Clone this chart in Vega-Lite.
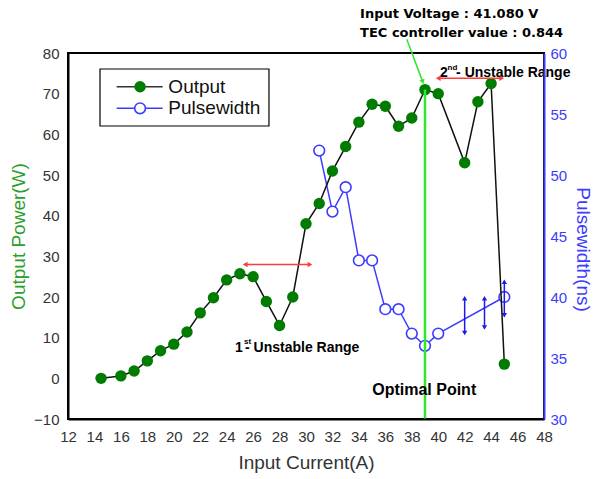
{
  "$schema": "https://vega.github.io/schema/vega-lite/v6.json",
  "width": 476,
  "height": 366,
  "autosize": {"type": "none"},
  "padding": {"left": 68, "top": 53, "right": 51, "bottom": 60},
  "background": "white",
  "config": {"view": {"stroke": "black", "strokeWidth": 2}, "font": "Liberation Sans"},
  "layer": [
    {
      "encoding": {
        "x": {"field": "x", "type": "quantitative", "scale": {"domain": [12, 48], "nice": false, "zero": false},
          "axis": {
            "title": "Input Current(A)", "grid": false, "ticks": false,
            "values": [12,14,16,18,20,22,24,26,28,30,32,34,36,38,40,42,44,46,48],
            "domainColor": "black", "domainWidth": 2,
            "labelColor": "#333333", "labelFont": "Liberation Sans", "labelFontSize": 15, "labelPadding": 10,
            "labelOverlap": false, "labelFlush": false,
            "titleColor": "#333333", "titleFont": "Liberation Sans", "titleFontSize": 19, "titleFontWeight": "normal",
            "titlePadding": 9, "zindex": 1
          }
        },
        "y": {"field": "y", "type": "quantitative", "scale": {"domain": [30, 60], "nice": false, "zero": false},
          "axis": {
            "orient": "right", "title": "Pulsewidth(ns)", "grid": false, "ticks": false,
            "values": [30, 35, 40, 45, 50, 55, 60],
            "domainColor": "#3c3cff", "domainWidth": 2,
            "labelColor": "#3c3cff", "labelFont": "Liberation Sans", "labelFontSize": 15, "labelPadding": 6,
            "labelOverlap": false, "labelFlush": false,
            "titleColor": "#3c3cff", "titleFont": "Liberation Sans", "titleFontSize": 19, "titleFontWeight": "normal",
            "titleAngle": 90, "titlePadding": 6, "titleY": 196, "zindex": 1
          }
        }
      },
      "layer": [
        {
          "data": {"values": [{"y": 30}, {"y": 32.5}, {"y": 35}, {"y": 37.5}, {"y": 40}, {"y": 42.5}, {"y": 45}, {"y": 47.5}, {"y": 50}, {"y": 52.5}, {"y": 55}, {"y": 57.5}, {"y": 60}]},
          "layer": [
            {"transform": [{"filter": "datum.y % 5 === 0"}],
             "mark": {"type": "rule", "color": "#3c3cff", "strokeWidth": 1.5},
             "encoding": {"x": {"datum": 48}, "x2": {"datum": 47.395}}},
            {"transform": [{"filter": "datum.y % 5 !== 0"}],
             "mark": {"type": "rule", "color": "#3c3cff", "strokeWidth": 1.5},
             "encoding": {"x": {"datum": 48}, "x2": {"datum": 47.7}}}
          ]
        },
        {
          "data": {"values": [
            {"x": 31, "y": 52}, {"x": 32, "y": 47}, {"x": 33, "y": 49}, {"x": 34, "y": 43}, {"x": 35, "y": 43},
            {"x": 36, "y": 39}, {"x": 37, "y": 39}, {"x": 38, "y": 37}, {"x": 39, "y": 36}, {"x": 40, "y": 37}, {"x": 45, "y": 40}
          ]},
          "layer": [
            {"mark": {"type": "line", "color": "#3c3cff", "strokeWidth": 1.5}},
            {"mark": {"type": "point", "shape": "circle", "filled": true, "fill": "white", "stroke": "#3c3cff", "strokeWidth": 1.6, "size": 115, "opacity": 1}}
          ]
        },
        {
          "data": {"values": [
            {"x": 42, "y": 37.05, "y2": 39.9}, {"x": 43.5, "y": 37.5, "y2": 39.9}, {"x": 45, "y": 38.5, "y2": 41.25}
          ]},
          "layer": [
            {"mark": {"type": "rule", "color": "#1a1aee", "strokeWidth": 1.5}, "encoding": {"y2": {"field": "y2"}}},
            {"mark": {"type": "point", "shape": "triangle-up", "filled": true, "color": "#1a1aee", "size": 28, "opacity": 1}, "encoding": {"y": {"field": "y2", "type": "quantitative"}}},
            {"mark": {"type": "point", "shape": "triangle-down", "filled": true, "color": "#1a1aee", "size": 28, "opacity": 1}}
          ]
        }
      ]
    },
    {
      "encoding": {
        "x": {"field": "x", "type": "quantitative", "scale": {"domain": [12, 48], "nice": false, "zero": false},
          "axis": {
            "title": "Input Current(A)", "grid": false, "ticks": false,
            "values": [12,14,16,18,20,22,24,26,28,30,32,34,36,38,40,42,44,46,48],
            "domainColor": "black", "domainWidth": 2,
            "labelColor": "#333333", "labelFont": "Liberation Sans", "labelFontSize": 15, "labelPadding": 10,
            "labelOverlap": false, "labelFlush": false,
            "titleColor": "#333333", "titleFont": "Liberation Sans", "titleFontSize": 19, "titleFontWeight": "normal",
            "titlePadding": 9, "zindex": 1
          }
        },
        "y": {"field": "y", "type": "quantitative", "scale": {"domain": [-10, 80], "nice": false, "zero": false},
          "axis": {
            "orient": "left", "title": "Output Power(W)", "grid": false, "ticks": false,
            "values": [-10, 0, 10, 20, 30, 40, 50, 60, 70, 80],
            "domainColor": "black", "domainWidth": 2,
            "labelColor": "#333333", "labelFont": "Liberation Sans", "labelFontSize": 15, "labelPadding": 9,
            "labelOverlap": false, "labelFlush": false,
            "titleColor": "#2aa02a", "titleFont": "Liberation Sans", "titleFontSize": 19, "titleFontWeight": "normal",
            "titlePadding": 5, "zindex": 1
          }
        }
      },
      "layer": [
        {
          "data": {"values": [{"x": 12}, {"x": 13}, {"x": 14}, {"x": 15}, {"x": 16}, {"x": 17}, {"x": 18}, {"x": 19}, {"x": 20}, {"x": 21}, {"x": 22}, {"x": 23}, {"x": 24}, {"x": 25}, {"x": 26}, {"x": 27}, {"x": 28}, {"x": 29}, {"x": 30}, {"x": 31}, {"x": 32}, {"x": 33}, {"x": 34}, {"x": 35}, {"x": 36}, {"x": 37}, {"x": 38}, {"x": 39}, {"x": 40}, {"x": 41}, {"x": 42}, {"x": 43}, {"x": 44}, {"x": 45}, {"x": 46}, {"x": 47}, {"x": 48}]},
          "layer": [
            {"transform": [{"filter": "datum.x % 2 === 0"}],
             "mark": {"type": "rule", "color": "black", "strokeWidth": 1.5},
             "encoding": {"y": {"datum": -10}, "y2": {"datum": -8.03}}},
            {"transform": [{"filter": "datum.x % 2 !== 0"}],
             "mark": {"type": "rule", "color": "black", "strokeWidth": 1.5},
             "encoding": {"y": {"datum": -10}, "y2": {"datum": -9.02}}}
          ]
        },
        {
          "data": {"values": [{"y": -10}, {"y": -5}, {"y": 0}, {"y": 5}, {"y": 10}, {"y": 15}, {"y": 20}, {"y": 25}, {"y": 30}, {"y": 35}, {"y": 40}, {"y": 45}, {"y": 50}, {"y": 55}, {"y": 60}, {"y": 65}, {"y": 70}, {"y": 75}, {"y": 80}]},
          "layer": [
            {"transform": [{"filter": "datum.y % 10 === 0"}],
             "mark": {"type": "rule", "color": "black", "strokeWidth": 1.5},
             "encoding": {"x": {"datum": 12}, "x2": {"datum": 12.605}}},
            {"transform": [{"filter": "datum.y % 10 !== 0"}],
             "mark": {"type": "rule", "color": "black", "strokeWidth": 1.5},
             "encoding": {"x": {"datum": 12}, "x2": {"datum": 12.3}}}
          ]
        },
        {
          "data": {"values": [{"x": 14.42, "x2": 27.2, "y": 76.07, "y2": 62.05}]},
          "mark": {"type": "rect", "fill": "white", "stroke": "black", "strokeWidth": 1.2},
          "encoding": {"x2": {"field": "x2"}, "y2": {"field": "y2"}}
        },
        {
          "data": {"values": [
            {"series": "Output", "x": 15.68, "x2": 19.16, "xm": 17.45, "xt": 19.59, "y": 71.7},
            {"series": "Pulsewidth", "x": 15.68, "x2": 19.16, "xm": 17.45, "xt": 19.59, "y": 66.4}
          ]},
          "layer": [
            {"mark": {"type": "rule", "strokeWidth": 1.5},
             "encoding": {"x2": {"field": "x2"}, "color": {"field": "series", "type": "nominal", "scale": {"domain": ["Output", "Pulsewidth"], "range": ["#333333", "#3c3cff"]}, "legend": null}}},
            {"transform": [{"filter": "datum.series === 'Output'"}],
             "mark": {"type": "point", "shape": "circle", "filled": true, "color": "#007d00", "size": 130, "opacity": 1},
             "encoding": {"x": {"field": "xm", "type": "quantitative"}}},
            {"transform": [{"filter": "datum.series === 'Pulsewidth'"}],
             "mark": {"type": "point", "shape": "circle", "filled": true, "fill": "white", "stroke": "#3c3cff", "strokeWidth": 1.6, "size": 115, "opacity": 1},
             "encoding": {"x": {"field": "xm", "type": "quantitative"}}},
            {"mark": {"type": "text", "align": "left", "baseline": "middle", "font": "Liberation Sans", "fontSize": 19, "color": "#111111"},
             "encoding": {"x": {"field": "xt", "type": "quantitative"}, "text": {"field": "series"}}}
          ]
        },
        {
          "data": {"values": [
            {"x": 14.5, "y": 0}, {"x": 16, "y": 0.6}, {"x": 17, "y": 1.8}, {"x": 18, "y": 4.3}, {"x": 19, "y": 6.8},
            {"x": 20, "y": 8.4}, {"x": 21, "y": 11.4}, {"x": 22, "y": 16.1}, {"x": 23, "y": 19.8}, {"x": 24, "y": 24.2},
            {"x": 25, "y": 25.7}, {"x": 26, "y": 25}, {"x": 27, "y": 18.9}, {"x": 28, "y": 13}, {"x": 29, "y": 20},
            {"x": 30, "y": 38}, {"x": 31, "y": 43}, {"x": 32, "y": 51}, {"x": 33, "y": 57}, {"x": 34, "y": 63},
            {"x": 35, "y": 67.4}, {"x": 36, "y": 66.9}, {"x": 37, "y": 62}, {"x": 38, "y": 64}, {"x": 39, "y": 71},
            {"x": 40, "y": 70}, {"x": 42, "y": 53}, {"x": 43, "y": 68}, {"x": 44, "y": 72.5}, {"x": 45, "y": 3.5}
          ]},
          "layer": [
            {"mark": {"type": "line", "color": "#111111", "strokeWidth": 1.5}},
            {"mark": {"type": "point", "shape": "circle", "filled": true, "color": "#007d00", "size": 130, "opacity": 1}}
          ]
        },
        {
          "data": {"values": [{"x": 39, "y": -10, "y2": 71}]},
          "mark": {"type": "rule", "color": "#2ee82e", "strokeWidth": 2.5},
          "encoding": {"y2": {"field": "y2"}}
        },
        {
          "data": {"values": [{"x": 37.62, "y": 83.4, "x2": 38.83, "y2": 72.9}]},
          "layer": [
            {"mark": {"type": "rule", "color": "#2ee82e", "strokeWidth": 1.5}, "encoding": {"x2": {"field": "x2"}, "y2": {"field": "y2"}}},
            {"mark": {"type": "point", "shape": "triangle-up", "filled": true, "color": "#2ee82e", "size": 30, "angle": 160, "opacity": 1},
             "encoding": {"x": {"field": "x2", "type": "quantitative"}, "y": {"field": "y2", "type": "quantitative"}}}
          ]
        },
        {
          "data": {"values": [{"x": 25.4, "x2": 30.3, "y": 28}, {"x": 40, "x2": 44.8, "y": 73.8}]},
          "layer": [
            {"mark": {"type": "rule", "color": "#ff3b3b", "strokeWidth": 1.5}, "encoding": {"x2": {"field": "x2"}}},
            {"mark": {"type": "point", "shape": "triangle-left", "filled": true, "color": "#ff3b3b", "size": 30, "opacity": 1}},
            {"mark": {"type": "point", "shape": "triangle-right", "filled": true, "color": "#ff3b3b", "size": 30, "opacity": 1},
             "encoding": {"x": {"field": "x2", "type": "quantitative"}}}
          ]
        },
        {
          "data": {"values": [
            {"x": 34.09, "y": 88.53, "label": "Input Voltage : 41.080 V"},
            {"x": 34.09, "y": 84.0, "label": "TEC controller value : 0.844"}
          ]},
          "mark": {"type": "text", "align": "left", "baseline": "alphabetic", "font": "DejaVu Sans", "fontWeight": "bold", "fontSize": 13, "color": "black"},
          "encoding": {"text": {"field": "label"}}
        },
        {
          "data": {"values": [{"x": 38.94, "y": -4.09, "label": "Optimal Point"}]},
          "mark": {"type": "text", "align": "center", "baseline": "alphabetic", "font": "Liberation Sans", "fontWeight": "bold", "fontSize": 16, "color": "black"},
          "encoding": {"text": {"field": "label"}}
        },
        {
          "data": {"values": [{"x": 24.63, "y": 6.55, "num": "1", "sup": "st", "rest": "- Unstable Range"}]},
          "layer": [
            {"mark": {"type": "text", "align": "left", "baseline": "alphabetic", "font": "Liberation Sans", "fontWeight": "bold", "fontSize": 14, "color": "black"}, "encoding": {"text": {"field": "num"}}},
            {"mark": {"type": "text", "align": "left", "baseline": "alphabetic", "font": "Liberation Sans", "fontWeight": "bold", "fontSize": 8, "color": "black", "dx": 9, "dy": -8}, "encoding": {"text": {"field": "sup"}}},
            {"mark": {"type": "text", "align": "left", "baseline": "alphabetic", "font": "Liberation Sans", "fontWeight": "bold", "fontSize": 14, "color": "black", "dx": 10}, "encoding": {"text": {"field": "rest"}}}
          ]
        },
        {
          "data": {"values": [{"x": 40.14, "y": 74.17, "num": "2", "sup": "nd", "rest": "- Unstable Range"}]},
          "layer": [
            {"mark": {"type": "text", "align": "left", "baseline": "alphabetic", "font": "Liberation Sans", "fontWeight": "bold", "fontSize": 14, "color": "black"}, "encoding": {"text": {"field": "num"}}},
            {"mark": {"type": "text", "align": "left", "baseline": "alphabetic", "font": "Liberation Sans", "fontWeight": "bold", "fontSize": 8, "color": "black", "dx": 7.5, "dy": -7}, "encoding": {"text": {"field": "sup"}}},
            {"mark": {"type": "text", "align": "left", "baseline": "alphabetic", "font": "Liberation Sans", "fontWeight": "bold", "fontSize": 14, "color": "black", "dx": 16}, "encoding": {"text": {"field": "rest"}}}
          ]
        }
      ]
    }
  ],
  "resolve": {"scale": {"y": "independent"}}
}
